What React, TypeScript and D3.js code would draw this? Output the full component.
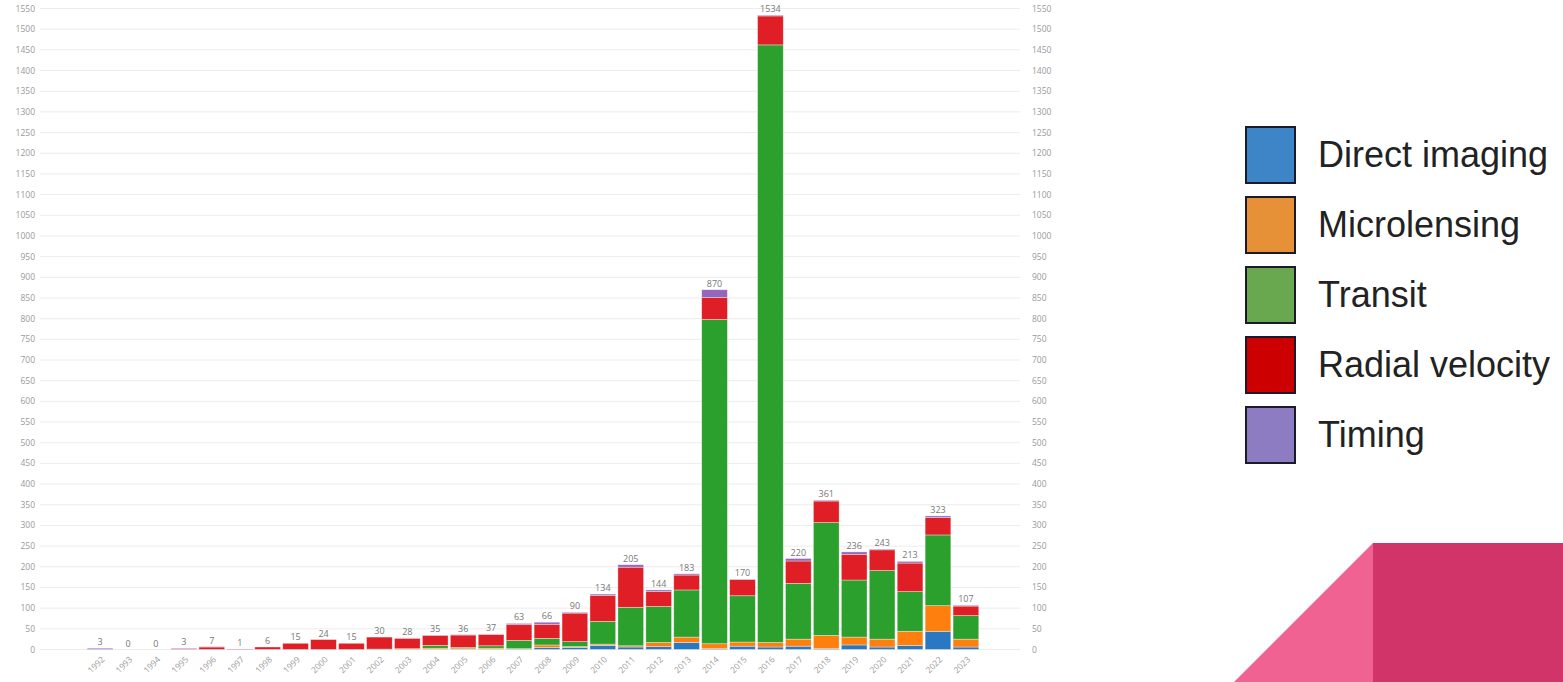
import React from "react";
import * as d3 from "d3";

const years = [1992,1993,1994,1995,1996,1997,1998,1999,2000,2001,2002,2003,2004,2005,2006,2007,2008,2009,2010,2011,2012,2013,2014,2015,2016,2017,2018,2019,2020,2021,2022,2023];
const directImaging = [0,0,0,0,0,0,0,0,0,0,0,0,0,0,0,1,5,5,10,6,7,17,2,8,6,8,2,11,6,10,44,6];
const microlensing = [0,0,0,0,0,0,0,0,0,0,0,1,3,2,3,1,6,2,3,3,10,13,12,10,11,17,32,19,19,34,62,19];
const transit = [0,0,0,0,0,0,0,0,0,0,1,1,7,3,6,20,16,12,55,93,87,114,784,112,1445,135,273,138,166,96,171,57];
const radialVelocity = [0,0,0,1,6,1,6,15,24,15,29,25,24,30,27,38,34,69,63,97,36,36,53,39,70,54,52,62,50,69,42,23];
const timing = [3,0,0,2,1,0,0,0,0,0,0,1,1,1,1,3,5,2,3,6,4,3,19,1,2,6,2,6,2,4,4,2];
const totals = [3,0,0,3,7,1,6,15,24,15,30,28,35,36,37,63,66,90,134,205,144,183,870,170,1534,220,361,236,243,213,323,107];
const yTicks = d3.range(0, 1551, 50);

const seriesNames = ["Direct imaging", "Microlensing", "Transit", "Radial velocity", "Timing"];
const barColors = ["#2a78c2", "#ff7f0e", "#2ca02c", "#e01e25", "#9467bd"];
const legendColors = ["#3d85c6", "#e69138", "#6aa84f", "#cc0000", "#8e7cc3"];

export default function App() {
  const W = 1563, H = 682;
  const y = d3.scaleLinear().domain([0, 1550]).range([649.5, 8.5]);
  const x = d3.scaleBand<number>().domain(years).range([85, 981]).padding(0.08);
  const seriesArr = [directImaging, microlensing, transit, radialVelocity, timing];
  const rows = years.map((yr, i) => {
    const r: any = { year: yr };
    seriesNames.forEach((n, k) => (r[n] = seriesArr[k][i]));
    return r;
  });
  const stack = d3.stack<any>().keys(seriesNames)(rows);

  return (
    <svg width={W} height={H} style={{ position: "absolute", left: 0, top: 0, background: "#fff" }}>
      <rect x={0} y={0} width={W} height={H} fill="#fff" />
      {yTicks.map((t) => (
        <g key={t}>
          <line x1={40} x2={1020} y1={y(t)} y2={y(t)} stroke="#ececec" strokeWidth={1} />
          <text x={35} y={y(t) + 3} textAnchor="end" fontSize={8.5} fill="#999" fontFamily="Open Sans, sans-serif">{t}</text>
          <text x={1032} y={y(t) + 3} textAnchor="start" fontSize={8.5} fill="#999" fontFamily="Open Sans, sans-serif">{t}</text>
        </g>
      ))}
      {stack.map((s, k) => (
        <g key={s.key}>
          {s.map((d, i) => {
            const h = y(d[0]) - y(d[1]);
            if (h <= 0) return null;
            return (
              <rect key={i} x={x(years[i])!} width={x.bandwidth()} y={y(d[1])} height={h}
                fill={barColors[k]} stroke="#ffffff" strokeOpacity={0.5} strokeWidth={0.7} />
            );
          })}
        </g>
      ))}
      {years.map((yr, i) => (
        <text key={"v" + yr} x={x(yr)! + x.bandwidth() / 2} y={y(totals[i]) - 3} textAnchor="middle"
          fontSize={9} fill="#777" fontFamily="Open Sans, sans-serif">{totals[i]}</text>
      ))}
      {years.map((yr) => {
        const cx = x(yr)! + x.bandwidth() / 2 + 5;
        const cy = 660;
        return (
          <text key={"x" + yr} x={cx} y={cy} textAnchor="end" fontSize={8.5} fill="#999"
            fontFamily="Open Sans, sans-serif" transform={`rotate(-45 ${cx} ${cy})`}>{yr}</text>
        );
      })}
      {seriesNames.map((n, k) => (
        <g key={"l" + n}>
          <rect x={1246} y={127 + k * 70} width={49} height={56} fill={legendColors[k]} stroke="#1a1a2a" strokeWidth={2} />
          <text x={1318} y={167 + k * 70} fontSize={36} fill="#222" fontFamily="Liberation Sans, Arial, sans-serif">{n}</text>
        </g>
      ))}
      <polygon points="1373,543 1373,682 1234,682" fill="#f06292" />
      <rect x={1373} y={543} width={190} height={139} fill="#d13468" />
    </svg>
  );
}
